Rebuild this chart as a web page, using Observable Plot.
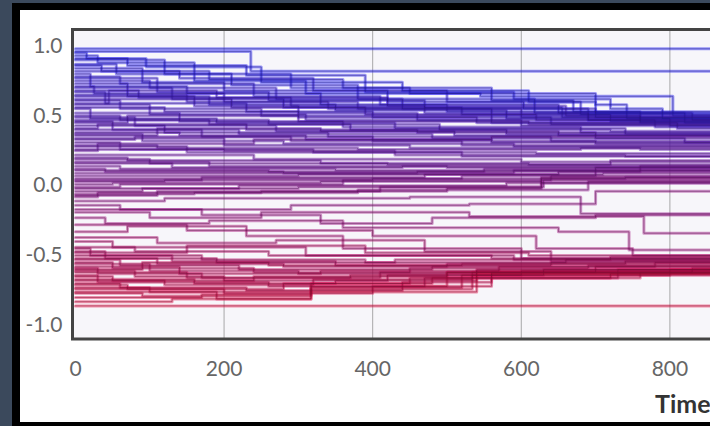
<!DOCTYPE html>
<html><head><meta charset="utf-8">
<script src="https://cdn.jsdelivr.net/npm/d3@7"></script>
<script src="https://cdn.jsdelivr.net/npm/@observablehq/plot@0.6"></script>
<style>
html,body{margin:0;padding:0;width:710px;height:426px;overflow:hidden;background:#3b495c;}
#panel{position:absolute;left:12px;top:3px;width:900px;height:412px;border-style:solid;border-color:#000;border-width:7px 8px 8px 8px;background:#fff;}
#chart{position:absolute;left:0;top:0;width:900px;height:426px;}
#chart svg{max-width:none !important;}
#xlabel{position:absolute;left:655px;top:388px;font:bold 25px Lato;color:#333;white-space:nowrap;}
</style></head>
<body>
<div id="panel"></div>
<div id="chart"></div>
<div id="xlabel">Time</div>
<script>
const xTicks = [0, 200, 400, 600, 800];
const gridTicks = [200, 400, 600, 800];
const yTicks = [-1, -0.5, 0, 0.5, 1];
const endTime = 1000;

// each series: [time, opinion] change points (step-after)
const blue = [
 [[0,0.98]],
 [[0,0.96],[236,0.82]],
 [[0,0.93],[30,0.88],[160,0.75],[310,0.66],[545,0.64],[804,0.50]],
 [[0,0.90],[120,0.80],[290,0.70],[450,0.66],[700,0.58],[742,0.48]],
 [[0,0.87],[55,0.80],[210,0.72],[380,0.62],[618,0.52],[820,0.45]],
 [[0,0.84],[90,0.74],[200,0.68],[420,0.60],[603,0.55],[690,0.47]],
 [[0,0.80],[20,0.71],[150,0.66],[330,0.58],[500,0.53],[760,0.46]],
 [[0,0.77],[110,0.67],[260,0.61],[470,0.56],[655,0.49]],
 [[0,0.73],[70,0.64],[180,0.58],[350,0.54],[580,0.48],[800,0.43]],
 [[0,0.70],[130,0.62],[280,0.56],[520,0.51],[720,0.46]],
 [[0,0.67],[40,0.59],[230,0.53],[400,0.49],[640,0.44]],
 [[0,0.64],[160,0.57],[300,0.52],[460,0.47],[780,0.42]],
 [[0,0.61],[60,0.55],[250,0.50],[560,0.45]],
 [[0,0.58],[100,0.51],[310,0.47],[600,0.43]],
 [[0,0.55],[20,0.48],[190,0.45],[430,0.41],[740,0.37]],
 [[0,0.52],[140,0.46],[360,0.42],[680,0.38]],
 [[0,0.49],[80,0.43],[270,0.39],[510,0.36]],
 [[0,0.46],[50,0.40],[220,0.37],[480,0.34],[820,0.31]],
 [[0,0.43],[120,0.38],[340,0.35],[640,0.32]],
 [[0,0.40],[170,0.35],[400,0.32],[700,0.30]],
 [[0,0.37],[90,0.32],[280,0.30],[590,0.28]],
 [[0,0.34],[200,0.29],[450,0.27],[760,0.26]],
 [[0,0.31],[60,0.26],[320,0.24],[620,0.23]],
 [[0,0.28],[150,0.24],[520,0.21]],
 [[0,0.25],[30,0.30],[240,0.33],[560,0.35]],
 [[0,0.45],[70,0.50],[300,0.46],[610,0.44]],
 [[0,0.62],[45,0.68],[190,0.63],[420,0.57],[660,0.50]],
 [[0,0.36],[110,0.41],[330,0.39],[650,0.36]],
 [[0,0.95],[15,0.91],[95,0.85],[250,0.74],[440,0.68],[610,0.60],[700,0.52]],
 [[0,0.91],[70,0.86],[230,0.79],[390,0.67],[590,0.62],[720,0.55],[790,0.48]],
 [[0,0.86],[35,0.82],[180,0.76],[360,0.70],[560,0.61],[670,0.53]],
 [[0,0.82],[140,0.77],[320,0.68],[500,0.60],[680,0.51]],
 [[0,0.78],[60,0.73],[240,0.64],[410,0.58],[650,0.52],[830,0.47]],
 [[0,0.75],[100,0.70],[270,0.62],[440,0.55],[700,0.49]],
 [[0,0.71],[25,0.66],[200,0.60],[380,0.55],[560,0.50],[760,0.45]],
 [[0,0.68],[85,0.63],[290,0.57],[470,0.52],[690,0.47]],
 [[0,0.65],[150,0.60],[340,0.55],[600,0.49]],
 [[0,0.59],[45,0.62],[210,0.56],[390,0.51],[620,0.47]],
 [[0,0.56],[120,0.53],[300,0.49],[540,0.45],[810,0.41]],
 [[0,0.50],[60,0.47],[260,0.44],[490,0.40],[720,0.39]],
 [[0,0.47],[180,0.44],[370,0.40],[580,0.37]],
 [[0,0.41],[30,0.44],[230,0.40],[460,0.38],[700,0.34]],
 [[0,0.38],[140,0.36],[310,0.33],[560,0.31]],
 [[0,0.33],[80,0.35],[290,0.32],[520,0.29]],
 [[0,0.29],[110,0.27],[380,0.26],[680,0.27]],
 [[0,0.26],[200,0.25],[430,0.22],[740,0.21]]
];
const purple = [
 [[0,0.22],[240,0.19],[600,0.17]],
 [[0,0.19],[100,0.16],[420,0.15],[720,0.18]],
 [[0,0.17],[180,0.14],[500,0.13]],
 [[0,0.14],[60,0.12],[350,0.11],[700,0.13]],
 [[0,0.11],[260,0.10],[550,0.12]],
 [[0,0.09],[140,0.09],[460,0.10],[760,0.14]],
 [[0,0.07],[80,0.07],[300,0.08],[650,0.10]],
 [[0,0.05],[200,0.05],[520,0.07],[700,0.11]],
 [[0,0.03],[120,0.04],[400,0.05],[740,0.06]],
 [[0,0.01],[50,0.02],[330,0.03],[627,0.02]],
 [[0,-0.02],[220,0.00],[580,0.02]],
 [[0,-0.04],[90,-0.02],[300,-0.01],[630,0.04]],
 [[0,-0.06],[160,-0.05],[380,-0.03],[690,0.03]],
 [[0,-0.08],[30,-0.05],[250,-0.04],[500,-0.02],[627,0.05]],
 [[0,0.20],[70,0.18],[330,0.16],[610,0.15]],
 [[0,0.16],[130,0.13],[440,0.14]],
 [[0,0.12],[40,0.10],[280,0.09],[590,0.11]],
 [[0,0.04],[170,0.06],[470,0.08],[710,0.09]],
 [[0,-0.01],[60,0.01],[360,0.04],[640,0.07]],
 [[0,-0.07],[110,-0.04],[410,-0.01],[627,0.06]]
];
const pink = [
 [[0,-0.11],[120,-0.09],[450,-0.08],[680,-0.20]],
 [[0,-0.14],[60,-0.17],[290,-0.14],[530,-0.13],[700,-0.04]],
 [[0,-0.19],[100,-0.23],[250,-0.19],[530,-0.22],[765,-0.34]],
 [[0,-0.23],[40,-0.27],[180,-0.25],[360,-0.30],[650,-0.33],[745,-0.46]],
 [[0,-0.28],[150,-0.32],[400,-0.36],[620,-0.45],[750,-0.50]],
 [[0,-0.33],[70,-0.29],[230,-0.36],[360,-0.45],[600,-0.52]],
 [[0,-0.37],[110,-0.41],[270,-0.39],[470,-0.47],[640,-0.54]],
 [[0,-0.40],[50,-0.44],[310,-0.50],[590,-0.53]],
 [[0,-0.17],[170,-0.21],[330,-0.27],[480,-0.23],[700,-0.21]]
];
const red = [
 [[0,-0.44],[80,-0.47],[260,-0.50],[560,-0.52]],
 [[0,-0.47],[40,-0.52],[190,-0.55],[430,-0.53],[720,-0.51]],
 [[0,-0.50],[130,-0.54],[350,-0.57],[640,-0.55]],
 [[0,-0.53],[60,-0.57],[220,-0.60],[480,-0.58],[780,-0.55]],
 [[0,-0.56],[100,-0.61],[300,-0.63],[540,-0.60]],
 [[0,-0.59],[30,-0.63],[170,-0.66],[410,-0.62],[700,-0.58]],
 [[0,-0.62],[150,-0.66],[370,-0.64],[600,-0.61]],
 [[0,-0.65],[50,-0.68],[240,-0.65],[500,-0.62],[830,-0.59]],
 [[0,-0.68],[120,-0.71],[320,-0.67],[534,-0.64]],
 [[0,-0.71],[70,-0.74],[280,-0.70],[450,-0.66],[760,-0.62]],
 [[0,-0.74],[200,-0.77],[400,-0.72],[560,-0.63]],
 [[0,-0.77],[90,-0.79],[317,-0.70],[480,-0.66],[720,-0.63]],
 [[0,-0.80],[170,-0.78],[317,-0.72],[500,-0.62]],
 [[0,-0.86]],
 [[0,-0.60],[90,-0.55],[260,-0.57],[520,-0.56]],
 [[0,-0.48],[150,-0.43],[390,-0.48],[610,-0.50]],
 [[0,-0.45],[20,-0.50],[170,-0.53],[390,-0.55],[660,-0.53]],
 [[0,-0.52],[110,-0.56],[280,-0.58],[500,-0.56],[740,-0.54]],
 [[0,-0.55],[50,-0.59],[240,-0.62],[450,-0.59],[690,-0.57]],
 [[0,-0.58],[140,-0.63],[330,-0.61],[570,-0.58]],
 [[0,-0.61],[80,-0.65],[200,-0.68],[420,-0.64],[630,-0.60]],
 [[0,-0.64],[30,-0.69],[260,-0.72],[470,-0.66],[730,-0.60]],
 [[0,-0.67],[160,-0.70],[350,-0.68],[540,-0.61]],
 [[0,-0.70],[60,-0.73],[230,-0.75],[440,-0.69],[560,-0.62]],
 [[0,-0.73],[100,-0.76],[317,-0.73],[520,-0.64],[800,-0.60]],
 [[0,-0.76],[190,-0.81],[317,-0.74],[534,-0.62]],
 [[0,-0.83],[130,-0.81],[317,-0.76],[540,-0.63]]
];

const colorOf = d3.interpolateRgb("#f2123c", "#2626f6");
const all = [...blue, ...purple, ...pink, ...red];
const rows = all.flatMap((s, i) => {
  const c = colorOf((s[0][1] + 1) / 2);
  const dk = d3.color(c).darker(1.5).formatHex();
  const pts = s.map(([t, v]) => ({id: i, t, v, c, dk}));
  pts.push({id: i, t: endTime, v: s[s.length - 1][1], c, dk});
  return pts;
});

const chart = Plot.plot({
  width: 900, height: 426,
  marginLeft: 72, marginRight: 82, marginTop: 29, marginBottom: 87.5,
  style: {background: "transparent", fontFamily: "Lato", fontSize: "21px", color: "#666", maxWidth: "none"},
  x: {domain: [-4, 1000], label: null},
  y: {domain: [-1.097, 1.118], label: null},
  marks: [
    Plot.frame({fill: "#f7f6fa"}),
    Plot.gridX(gridTicks, {stroke: "#888", strokeOpacity: 0.7, strokeWidth: 1}),
    Plot.line(rows, {x: "t", y: "v", z: "id", stroke: "c", strokeWidth: 3, strokeOpacity: 0.45, curve: "step-after"}),
    Plot.line(rows, {x: "t", y: "v", z: "id", stroke: "dk", strokeWidth: 0.9, strokeOpacity: 0.55, curve: "step-after"}),
    Plot.frame({stroke: "#444", strokeWidth: 3}),
    Plot.axisX(xTicks, {tickSize: 0, tickPadding: 22, fill: "#666", fontSize: 21, tickFormat: d => String(d)}),
    Plot.axisY(yTicks, {tickSize: 0, tickPadding: 10, fill: "#666", fontSize: 21, tickFormat: d => d.toFixed(1)})
  ]
});
document.getElementById("chart").appendChild(chart);
</script>
</body></html>
